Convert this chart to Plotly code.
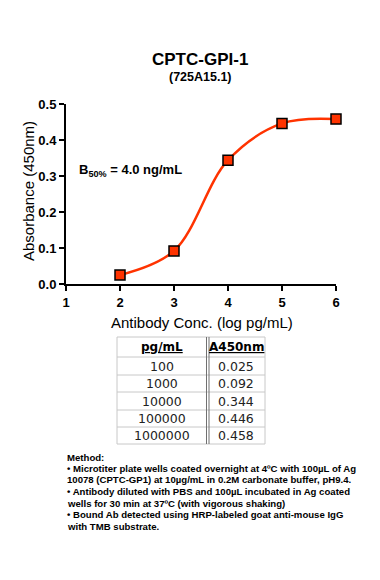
import plotly.graph_objects as go

# ---- data ----
log_conc = [2, 3, 4, 5, 6]
absorbance = [0.025, 0.092, 0.344, 0.446, 0.458]
table_conc = ["100", "1000", "10000", "100000", "1000000"]
table_abs = ["0.025", "0.092", "0.344", "0.446", "0.458"]
x_ticks = [1, 2, 3, 4, 5, 6]
y_ticks = [0.0, 0.1, 0.2, 0.3, 0.4, 0.5]

title = "CPTC-GPI-1"
subtitle = "(725A15.1)"
b50_text = "B<sub>50%</sub> = 4.0 ng/mL"
x_title = "Antibody Conc. (log pg/mL)"
y_title = "Absorbance (450nm)"
method_lines = [
    "Method:",
    "• Microtiter plate wells coated overnight at 4ºC with 100µL of Ag",
    "10078 (CPTC-GP1) at 10µg/mL in 0.2M carbonate buffer, pH9.4.",
    "• Antibody diluted with PBS and 100µL incubated in Ag coated",
    "wells for 30 min at 37ºC (with vigorous shaking)",
    "• Bound Ab detected using HRP-labeled goat anti-mouse IgG",
    "with TMB substrate.",
]

# page offset (browser body margin)
OFF = 8
# plot rectangle in page pixels
PL, PR, PT, PB = 66, 336, 104, 284
W, H = 372, 572
L, T = PL - OFF, PT - OFF
R, B = W - (PR - OFF), H - (PB - OFF)
PW, PH = PR - PL, PB - PT


def px(x):
    return (x - PL) / PW


def py(y):
    return (PB - y) / PH


RED = "#FF3300"
FONT = "Liberation Sans"

fig = go.Figure()
fig.add_trace(go.Scatter(
    x=log_conc, y=absorbance, mode="lines",
    line=dict(color=RED, width=2.5, shape="spline", smoothing=1.0),
    hoverinfo="skip", showlegend=False, cliponaxis=False))
fig.add_trace(go.Scatter(
    x=log_conc, y=absorbance, mode="markers",
    marker=dict(symbol="square", size=10, color=RED,
                line=dict(color="black", width=1.5)),
    showlegend=False, cliponaxis=False))

ann = []


def add(text, x, y, size, family=FONT, xanchor="center", color="black", angle=0):
    ann.append(dict(text=text, x=px(x), y=py(y), xref="paper", yref="paper",
                    xanchor=xanchor, yanchor="middle", showarrow=False, textangle=angle,
                    font=dict(family=family, size=size, color=color)))


add("<b>" + title + "</b>", 200, 59, 17)
add("<b>" + subtitle + "</b>", 200, 77, 12.5)
add("<b>" + b50_text + "</b>", 77, 170, 13, xanchor="left")
add(y_title, 28, 191, 15, angle=-90)
add(x_title, 202, 322, 15)

# table
shapes = []
tx0, tdiv, tx1 = 117, 207.5, 265
row_y = [337, 357, 375, 392, 410, 427, 444]
gray = "#c8c8c8"


def line(x0, y0, x1, y1, color, width=1):
    shapes.append(dict(type="line", xref="paper", yref="paper", x0=px(x0), x1=px(x1),
                       y0=py(y0), y1=py(y1), line=dict(color=color, width=width)))


for yy in row_y:
    line(tx0, yy, tx1, yy, gray)
for xx in (tx0, tx1):
    line(xx, row_y[0], xx, row_y[-1], gray)
for xx in (tdiv - 1, tdiv + 1.5):
    line(xx, row_y[0], xx, row_y[-1], "#707070")

TFONT = "DejaVu Sans"
c1, c2 = (tx0 + tdiv) / 2, (tdiv + tx1) / 2
hy = (row_y[0] + row_y[1]) / 2
add("<b><u>pg/mL</u></b>", c1, hy, 12, family=TFONT)
add("<b><u>A450nm</u></b>", c2, hy, 12, family=TFONT)
for i, (a, b) in enumerate(zip(table_conc, table_abs)):
    yc = (row_y[i + 1] + row_y[i + 2]) / 2
    add(a, c1, yc, 12.5, family=TFONT, color="#222")
    add(b, c2, yc, 12.5, family=TFONT, color="#222")

# method text
for i, ln in enumerate(method_lines):
    add("<b>" + ln + "</b>", 65, 457 + i * 11.5, 9.6, xanchor="left")

axis_common = dict(showline=True, linecolor="black", linewidth=2, ticks="outside",
                   ticklen=5, tickwidth=2, tickcolor="black", showgrid=False, zeroline=False,
                   tickfont=dict(family=FONT, size=13, color="black", weight="bold"))
fig.update_layout(
    width=W, height=H, margin=dict(l=L, r=R, t=T, b=B, autoexpand=False),
    paper_bgcolor="white", plot_bgcolor="white",
    xaxis=dict(range=[1, 6], tickvals=x_ticks, ticktext=[str(v) for v in x_ticks], **axis_common),
    yaxis=dict(range=[0, 0.5], tickvals=y_ticks, ticktext=["%.1f" % v for v in y_ticks], **axis_common),
    annotations=ann, shapes=shapes, showlegend=False)

fig.write_html("out.html")
